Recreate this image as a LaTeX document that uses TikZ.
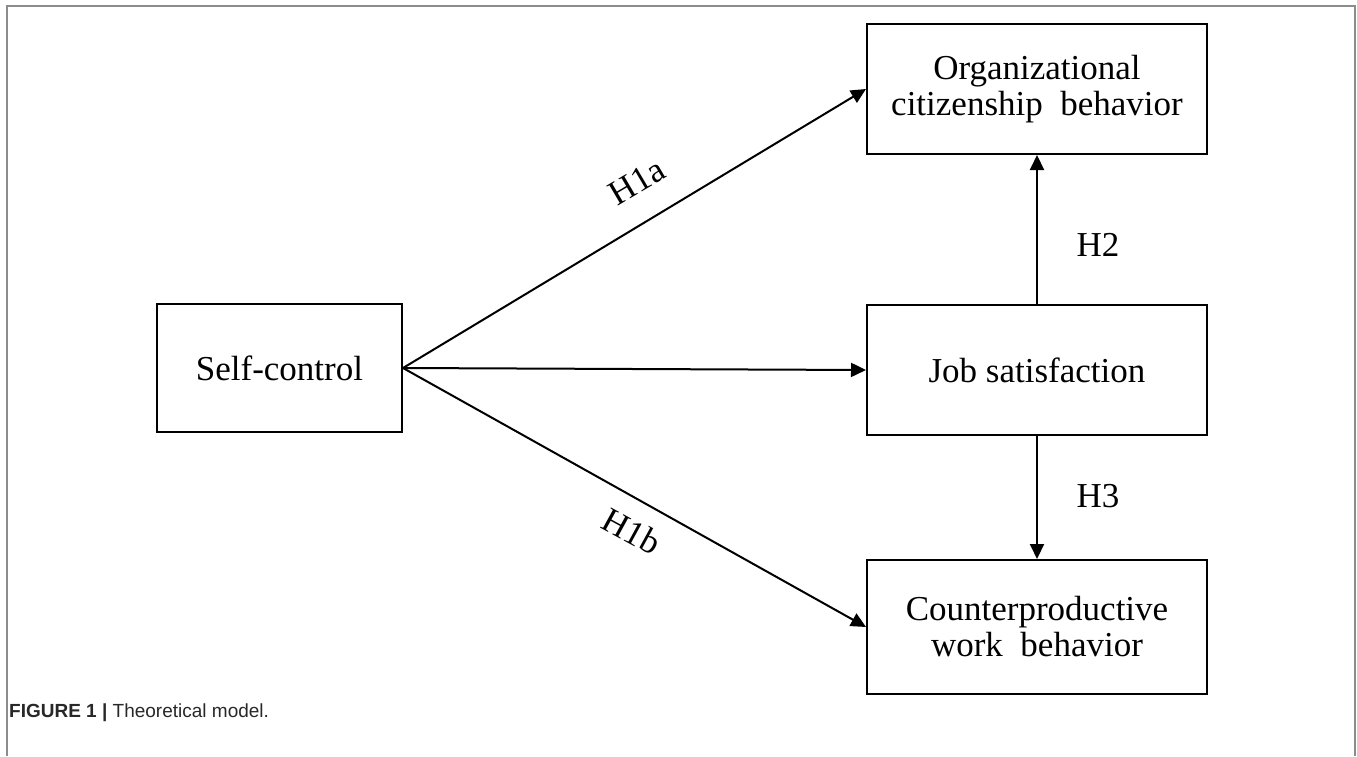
\documentclass[tikz,border=0pt]{standalone}
\usepackage{fontspec}
\setmainfont{Liberation Serif}
\newfontfamily\capfont{Liberation Sans}
\usetikzlibrary{arrows.meta}
\definecolor{framegray}{RGB}{140,140,140}
\definecolor{captext}{RGB}{40,40,40}
\begin{document}
\begin{tikzpicture}[x=1pt,y=-1pt,
  box/.style={draw,line width=2pt,rectangle,align=center,font=\fontsize{35}{36}\selectfont,inner sep=0pt},
  arr/.style={line width=2pt,-{Triangle[length=15pt,width=14pt]}},
  lbl/.style={font=\fontsize{35}{36}\selectfont,inner sep=0pt},
  frameline/.style={draw=framegray,line width=1.5pt}]
\useasboundingbox (0,0) rectangle (1357,756);
% outer frame (open at bottom)
\draw[frameline] (7,756) -- (7,6) -- (1355,6) -- (1355,756);
% boxes
\node[box,minimum width=245pt,minimum height=128pt] (sc) at (279.5,368) {Self-control};
\node[box,minimum width=340pt,minimum height=130pt] (ocb) at (1037,89) {Organizational\\citizenship\ \ behavior};
\node[box,minimum width=340pt,minimum height=130pt] (js) at (1037,370) {Job satisfaction};
\node[box,minimum width=340pt,minimum height=134pt] (cwb) at (1037,627) {Counterproductive\\work\ \ behavior};
% connectors
\draw[arr] (sc.east) -- (ocb.west);
\draw[arr] (sc.east) -- (js.west);
\draw[arr] (sc.east) -- (cwb.west);
\draw[arr] (js.north) -- (ocb.south);
\draw[arr] (js.south) -- (cwb.north);
% labels
\node[lbl,rotate=30.5] (h1a) at (637,182) {H1a};
\node[lbl,rotate=-28.7] (h1b) at (632,531) {H1b};
\node[lbl] (h2) at (1098,245) {H2};
\node[lbl] (h3) at (1098,496) {H3};
% caption
\node[anchor=base west,inner sep=0pt,text=captext,font=\capfont\fontsize{19}{22}\selectfont] (cap) at (9,717) {\textbf{FIGURE 1 |} Theoretical model.};
\end{tikzpicture}
\end{document}
